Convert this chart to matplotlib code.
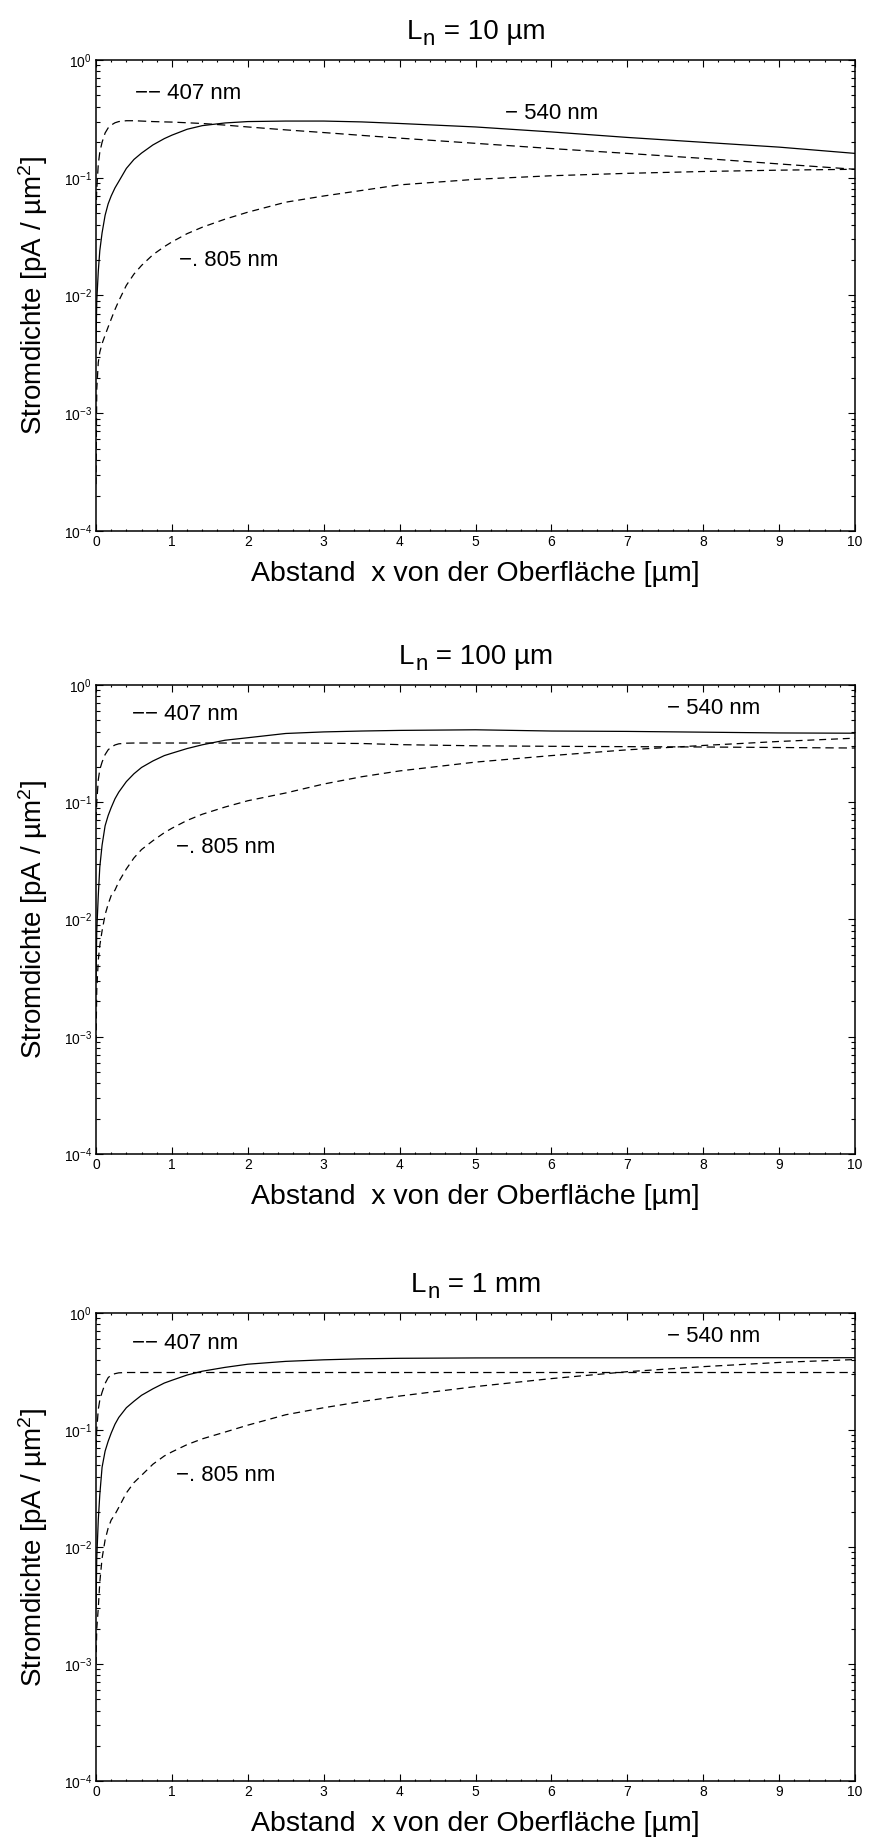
import matplotlib
matplotlib.use("Agg")
import matplotlib.pyplot as plt
from matplotlib.ticker import FixedLocator, FixedFormatter, MultipleLocator, NullFormatter
from matplotlib.font_manager import FontProperties
from matplotlib.textpath import TextToPath

plt.rcParams['font.family'] = ['Liberation Sans', 'DejaVu Sans']
plt.rcParams['mathtext.fontset'] = 'custom'
plt.rcParams['mathtext.rm'] = 'Liberation Sans'
plt.rcParams['mathtext.it'] = 'Liberation Sans:italic'
plt.rcParams['mathtext.bf'] = 'Liberation Sans:bold'
plt.rcParams['lines.scale_dashes'] = False

# depth grid [µm]
x = [0, 0.01, 0.03, 0.05, 0.08, 0.12, 0.16, 0.2, 0.25, 0.3, 0.4, 0.5, 0.6, 0.75, 0.9,
     1.0, 1.2, 1.4, 1.7, 2.0, 2.5, 3.0, 3.5, 4.0, 5.0, 6.0, 7.0, 8.0, 9.0, 10.0]

# current density [pA / µm²], L_n = 10 µm
j407_10um = [0.05, 0.08, 0.13, 0.165, 0.2, 0.24, 0.265, 0.28, 0.293, 0.30, 0.305, 0.305, 0.303,
             0.30, 0.298, 0.297, 0.293, 0.289, 0.28, 0.27, 0.255, 0.242, 0.229, 0.217, 0.196,
             0.177, 0.161, 0.146, 0.131, 0.118]
j540_10um = [0.004, 0.009, 0.016, 0.024, 0.034, 0.048, 0.06, 0.07, 0.082, 0.093, 0.12, 0.143,
             0.162, 0.19, 0.215, 0.23, 0.258, 0.277, 0.292, 0.30, 0.303, 0.303, 0.298, 0.289,
             0.27, 0.245, 0.22, 0.2, 0.182, 0.161]
j805_10um = [2.5e-4, 1.6e-3, 2.7e-3, 3.3e-3, 3.9e-3, 4.6e-3, 5.4e-3, 6.3e-3, 7.6e-3, 9.0e-3,
             0.0122, 0.0152, 0.018, 0.0222, 0.026, 0.0285, 0.0335, 0.038, 0.0445, 0.051, 0.062,
             0.070, 0.078, 0.087, 0.097, 0.104, 0.109, 0.113, 0.116, 0.118]

# L_n = 100 µm
j407_100um = [0.07, 0.1, 0.155, 0.19, 0.22, 0.255, 0.28, 0.295, 0.308, 0.315, 0.319, 0.32, 0.32,
              0.32, 0.32, 0.32, 0.32, 0.32, 0.32, 0.32, 0.32, 0.319, 0.317, 0.31, 0.303, 0.30,
              0.298, 0.296, 0.293, 0.29]
j540_100um = [0.003, 0.008, 0.016, 0.028, 0.043, 0.063, 0.077, 0.09, 0.107, 0.122, 0.15, 0.175,
              0.198, 0.225, 0.25, 0.262, 0.287, 0.309, 0.338, 0.355, 0.386, 0.398, 0.405, 0.41,
              0.415, 0.405, 0.402, 0.396, 0.39, 0.388]
j805_100um = [9e-4, 2.5e-3, 4.5e-3, 6e-3, 8e-3, 0.011, 0.0135, 0.016, 0.0178, 0.021, 0.027,
              0.0335, 0.0395, 0.047, 0.055, 0.06, 0.07, 0.079, 0.091, 0.103, 0.12, 0.143, 0.165,
              0.185, 0.22, 0.25, 0.28, 0.305, 0.33, 0.352]

# L_n = 1 mm
j407_1mm = [0.07, 0.1, 0.15, 0.18, 0.21, 0.25, 0.28, 0.295, 0.303, 0.308, 0.31, 0.31, 0.31,
            0.31, 0.31, 0.31, 0.31, 0.31, 0.31, 0.31, 0.31, 0.31, 0.31, 0.31, 0.31, 0.31,
            0.31, 0.31, 0.31, 0.31]
j540_1mm = [0.003, 0.008, 0.017, 0.028, 0.048, 0.066, 0.08, 0.094, 0.112, 0.128, 0.155, 0.176,
            0.198, 0.225, 0.252, 0.266, 0.295, 0.318, 0.343, 0.365, 0.386, 0.398, 0.406, 0.41,
            0.413, 0.414, 0.414, 0.415, 0.415, 0.415]
j805_1mm = [1e-3, 2e-3, 3e-3, 5e-3, 8e-3, 0.0115, 0.0145, 0.017, 0.019, 0.0218, 0.029, 0.0355,
            0.041, 0.051, 0.06, 0.065, 0.075, 0.084, 0.096, 0.11, 0.135, 0.155, 0.175, 0.195,
            0.235, 0.275, 0.315, 0.348, 0.378, 0.40]

# panel titles: "L" with subscript "n", followed by the diffusion length
title_values = [" = 10 µm", " = 100 µm", " = 1 mm"]
panel_series = [(j407_10um, j540_10um, j805_10um),
                (j407_100um, j540_100um, j805_100um),
                (j407_1mm, j540_1mm, j805_1mm)]
# label anchor positions (x, y) for 407 / 540 / 805 nm
label_pos = [((0.51, 0.52), (5.39, 0.352), (1.1, 0.0199)),
             ((0.47, 0.556), (7.52, 0.63), (1.06, 0.041)),
             ((0.47, 0.55), (7.52, 0.63), (1.06, 0.041))]
label_text = ["\u2212\u2212 407 nm", "\u2212 540 nm", "\u2212. 805 nm"]

x_ticks = list(range(0, 11))
y_ticks = [1e-4, 1e-3, 1e-2, 1e-1, 1e0]
y_ticklabels = [r"$\mathregular{10^{-4}}$", r"$\mathregular{10^{-3}}$", r"$\mathregular{10^{-2}}$",
                r"$\mathregular{10^{-1}}$", r"$\mathregular{10^{0}}$"]
xlabel = "Abstand  x von der Oberfläche [µm]"
ylabel = r"Stromdichte [pA / µm$^\mathregular{2}$]"

W, H = 874, 1842
fig = plt.figure(figsize=(W / 100, H / 100), dpi=100)

# axes frames in pixels: (left, top, right, bottom)
frames = [(96, 60, 855, 531), (96, 685, 855, 1154), (96, 1313, 855, 1781)]

styles = [dict(color='black', lw=0.9, linestyle=(0, (6, 3.5))),
          dict(color='black', lw=0.9, linestyle='-'),
          dict(color='black', lw=0.9, linestyle=(0, (5, 3.5)))]

TITLE_SIZE, SUB_SIZE = 20, 16
ttp = TextToPath()


def text_width(s, size):
    w, _, _ = ttp.get_text_width_height_descent(
        s, FontProperties(family='Liberation Sans', size=size), ismath=False)
    return w


def draw_title(ax, rest):
    wL = text_width("L", TITLE_SIZE)
    wn = text_width("n", SUB_SIZE)
    wr = text_width(rest, TITLE_SIZE)
    x0 = -(wL + wn + wr) / 2
    base = 14.9
    kw = dict(xy=(0.5, 1), xycoords='axes fraction', textcoords='offset points',
              ha='left', va='baseline')
    ax.annotate("L", xytext=(x0, base), fontsize=TITLE_SIZE, **kw)
    ax.annotate("n", xytext=(x0 + wL + 0.5, base - 4.1), fontsize=SUB_SIZE, **kw)
    ax.annotate(rest, xytext=(x0 + wL + wn + 1.0, base), fontsize=TITLE_SIZE, **kw)


for (l, t, r, b), rest, series, lpos in zip(frames, title_values, panel_series, label_pos):
    ax = fig.add_axes([l / W, 1 - b / H, (r - l) / W, (b - t) / H])
    ax.set_yscale('log')
    ax.set_xlim(0, 10)
    ax.set_ylim(1e-4, 1)
    for ys, st in zip(series, styles):
        ax.plot(x, ys, **st)
    for (tx, ty), s in zip(lpos, label_text):
        ax.text(tx, ty, s, fontsize=16, ha='left', va='center')

    ax.xaxis.set_major_locator(FixedLocator(x_ticks))
    ax.xaxis.set_major_formatter(FixedFormatter([str(v) for v in x_ticks]))
    ax.xaxis.set_minor_locator(MultipleLocator(0.2))
    ax.yaxis.set_major_locator(FixedLocator(y_ticks))
    ax.yaxis.set_major_formatter(FixedFormatter(y_ticklabels))
    ax.yaxis.set_minor_formatter(NullFormatter())
    ax.tick_params(which='both', direction='in', top=True, right=True, width=0.8)
    ax.tick_params(which='major', length=5, labelsize=10, pad=3)
    ax.tick_params(axis='x', which='minor', length=1.2)
    ax.tick_params(axis='y', which='minor', length=3)
    for sp in ax.spines.values():
        sp.set_linewidth(1.1)

    draw_title(ax, rest)
    ax.annotate(xlabel, xy=(0.5, 0), xycoords='axes fraction', xytext=(0, -36),
                textcoords='offset points', ha='center', va='baseline', fontsize=20.5)
    ax.annotate(ylabel, xy=(0, 0.5), xycoords='axes fraction', xytext=(-38.9, 0),
                textcoords='offset points', ha='center', va='baseline', fontsize=20,
                rotation=90, rotation_mode='anchor')

fig.savefig("out.png", dpi=100)
